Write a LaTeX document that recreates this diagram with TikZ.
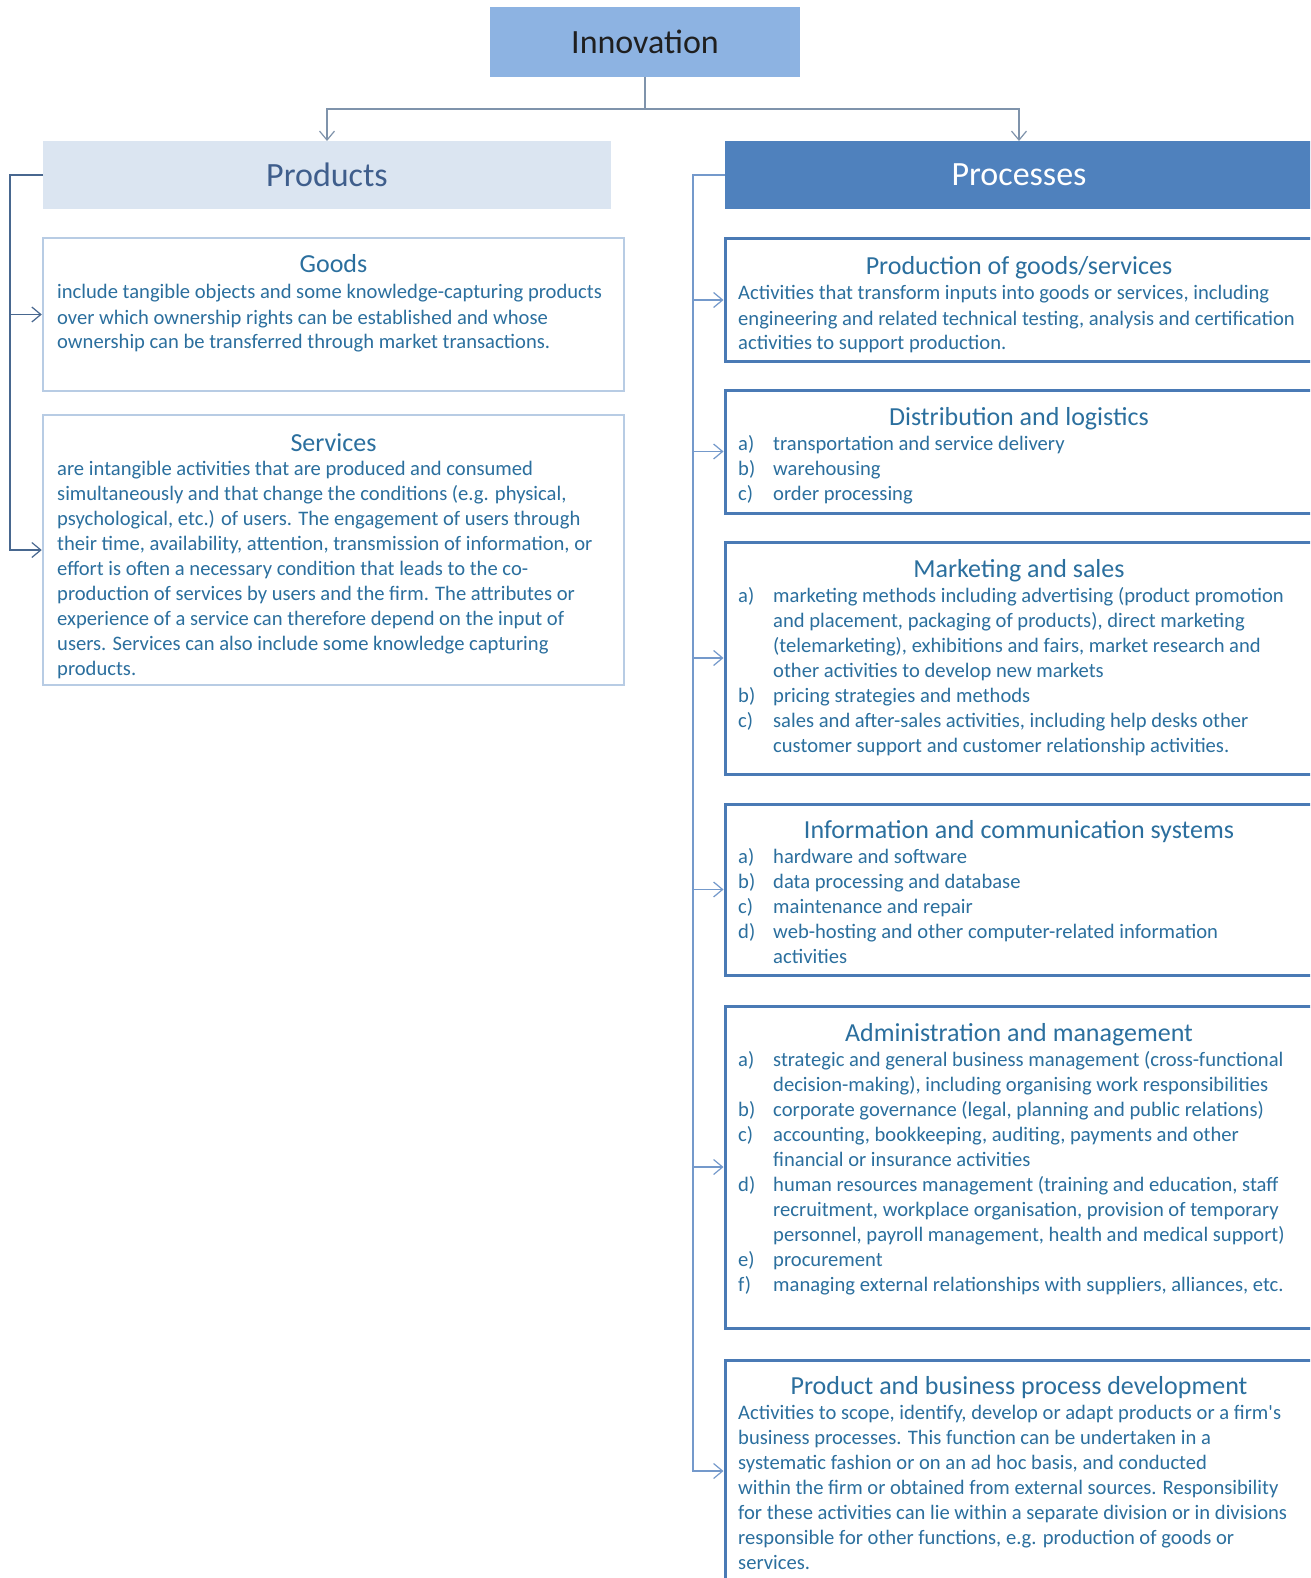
\documentclass[tikz,border=0pt]{standalone}
\usepackage{fontspec}
\setmainfont{Carlito}
\usetikzlibrary{arrows.meta}

\definecolor{innovfill}{HTML}{8DB3E2}
\definecolor{prodfill}{HTML}{DBE5F1}
\definecolor{procfill}{HTML}{4F81BD}
\definecolor{prodtext}{HTML}{3F5E8C}
\definecolor{bodytext}{HTML}{2B6F9E}
\definecolor{lightborder}{HTML}{B8CCE4}
\definecolor{darkborder}{HTML}{4A7AB5}
\definecolor{topline}{HTML}{7F93AB}
\definecolor{leftline}{HTML}{48678F}
\definecolor{rightline}{HTML}{7499CB}

% multi-line text block whose baseline is the first line
\newcommand\txtlines[1]{\begin{tabular}[t]{@{}l@{}}#1\end{tabular}}
\newcommand\itemlab[1]{\makebox[35pt][l]{#1}}
\newcommand\contline{\hspace*{35pt}}

\tikzset{
  headbox/.style={inner sep=0pt, outer sep=0pt, font=\fontsize{34}{40}\selectfont},
  lightbox/.style={draw=lightborder, line width=2.5pt, fill=white, inner sep=0pt},
  darkbox/.style={draw=darkborder, line width=3pt, fill=white, inner sep=0pt},
  boxtitle/.style={anchor=base, inner sep=0pt, text=bodytext, font=\fontsize{26}{31}\selectfont},
  boxbody/.style={anchor=base west, inner sep=0pt, text=bodytext, font=\fontsize{20.6}{25}\selectfont},
  conn/.style={line width=1.4pt},
  arr/.style={conn, -{Straight Barb[length=9pt,width=15pt,line width=1.2pt]}}
}

\begin{document}
\begin{tikzpicture}[x=1pt,y=-1pt]
\useasboundingbox (0,0) rectangle (1310,1578);
\clip (0,0) rectangle (1310,1578);
\fill[white] (0,0) rectangle (1310,1578);

% header boxes
\node[headbox, fill=innovfill, text=black!88, minimum width=310pt, minimum height=70pt] (innov) at (645,42) {Innovation};
\node[headbox, fill=prodfill, text=prodtext, minimum width=568pt, minimum height=68pt] (products) at (327,175) {Products};
\node[headbox, fill=procfill, text=white, minimum width=588pt, minimum height=68pt] (processes) at (1019,175) {Processes};

% product boxes
\node[lightbox, minimum width=581pt, minimum height=153pt] (goods) at (333.5,314.5) {};
\node[lightbox, minimum width=581pt, minimum height=270pt] (services) at (333.5,550) {};

% process boxes
\node[darkbox, minimum width=588pt, minimum height=122pt] (prod) at (1019,300) {};
\node[darkbox, minimum width=588pt, minimum height=123pt] (dist) at (1019,451.5) {};
\node[darkbox, minimum width=588pt, minimum height=232pt] (mkt) at (1019,658) {};
\node[darkbox, minimum width=588pt, minimum height=171pt] (info) at (1019,889.5) {};
\node[darkbox, minimum width=588pt, minimum height=322pt] (admin) at (1019,1167) {};
\node[darkbox, minimum width=588pt, minimum height=222pt] (pdev) at (1019,1471) {};

% connectors from the top box
\coordinate (split) at (645,109);
\draw[conn, topline] (innov.south) -- (split);
\draw[arr, topline] (split) -| (products.north);
\draw[arr, topline] (split) -| (processes.north);

% product branch
\coordinate (lbus) at (10,175);
\draw[arr, leftline] (products.west) -- (lbus) |- (services.west);
\draw[arr, leftline] (lbus) |- (goods.west);

% process branch
\coordinate (rbus) at (693,175);
\draw[arr, rightline] (processes.west) -- (rbus) |- (pdev.west);
\foreach \b in {prod,dist,mkt,info,admin}
  \draw[arr, rightline] (rbus) |- (\b.west);

% texts of the product boxes
\node[boxtitle] (goodsH) at (333.5,273) {Goods};
\node[boxbody] (goodsT) at (57,299) {\txtlines{%
include tangible objects and some knowledge-capturing products\\
over which ownership rights can be established and whose\\
ownership can be transferred through market transactions.}};

\node[boxtitle] (servicesH) at (333.5,451) {Services};
\node[boxbody] (servicesT) at (57,475) {\txtlines{%
are intangible activities that are produced and consumed\\
simultaneously and that change the conditions (e.g. physical,\\
psychological, etc.) of users. The engagement of users through\\
their time, availability, attention, transmission of information, or\\
effort is often a necessary condition that leads to the co-\\
production of services by users and the firm. The attributes or\\
experience of a service can therefore depend on the input of\\
users. Services can also include some knowledge capturing\\
products.}};

% texts of the process boxes
\node[boxtitle] (prodH) at (1019,275) {Production of goods/services};
\node[boxbody] (prodT) at (738,300) {\txtlines{%
Activities that transform inputs into goods or services, including\\
engineering and related technical testing, analysis and certification\\
activities to support production.}};

\node[boxtitle] (distH) at (1019,425) {Distribution and logistics};
\node[boxbody] (distT) at (738,450) {\txtlines{%
\itemlab{a)}transportation and service delivery\\
\itemlab{b)}warehousing\\
\itemlab{c)}order processing}};

\node[boxtitle] (mktH) at (1019,577) {Marketing and sales};
\node[boxbody] (mktT) at (738,602) {\txtlines{%
\itemlab{a)}marketing methods including advertising (product promotion\\
\contline and placement, packaging of products), direct marketing\\
\contline (telemarketing), exhibitions and fairs, market research and\\
\contline other activities to develop new markets\\
\itemlab{b)}pricing strategies and methods\\
\itemlab{c)}sales and after-sales activities, including help desks other\\
\contline customer support and customer relationship activities.}};

\node[boxtitle] (infoH) at (1019,838) {Information and communication systems};
\node[boxbody] (infoT) at (738,863) {\txtlines{%
\itemlab{a)}hardware and software\\
\itemlab{b)}data processing and database\\
\itemlab{c)}maintenance and repair\\
\itemlab{d)}web-hosting and other computer-related information\\
\contline activities}};

\node[boxtitle] (adminH) at (1019,1041) {Administration and management};
\node[boxbody] (adminT) at (738,1066) {\txtlines{%
\itemlab{a)}strategic and general business management (cross-functional\\
\contline decision-making), including organising work responsibilities\\
\itemlab{b)}corporate governance (legal, planning and public relations)\\
\itemlab{c)}accounting, bookkeeping, auditing, payments and other\\
\contline financial or insurance activities\\
\itemlab{d)}human resources management (training and education, staff\\
\contline recruitment, workplace organisation, provision of temporary\\
\contline personnel, payroll management, health and medical support)\\
\itemlab{e)}procurement\\
\itemlab{f)}managing external relationships with suppliers, alliances, etc.}};

\node[boxtitle] (pdevH) at (1019,1394) {Product and business process development};
\node[boxbody] (pdevT) at (738,1419) {\txtlines{%
Activities to scope, identify, develop or adapt products or a firm\textquotesingle s\\
business processes. This function can be undertaken in a\\
systematic fashion or on an ad hoc basis, and conducted\\
within the firm or obtained from external sources. Responsibility\\
for these activities can lie within a separate division or in divisions\\
responsible for other functions, e.g. production of goods or\\
services.}};
\end{tikzpicture}
\end{document}
